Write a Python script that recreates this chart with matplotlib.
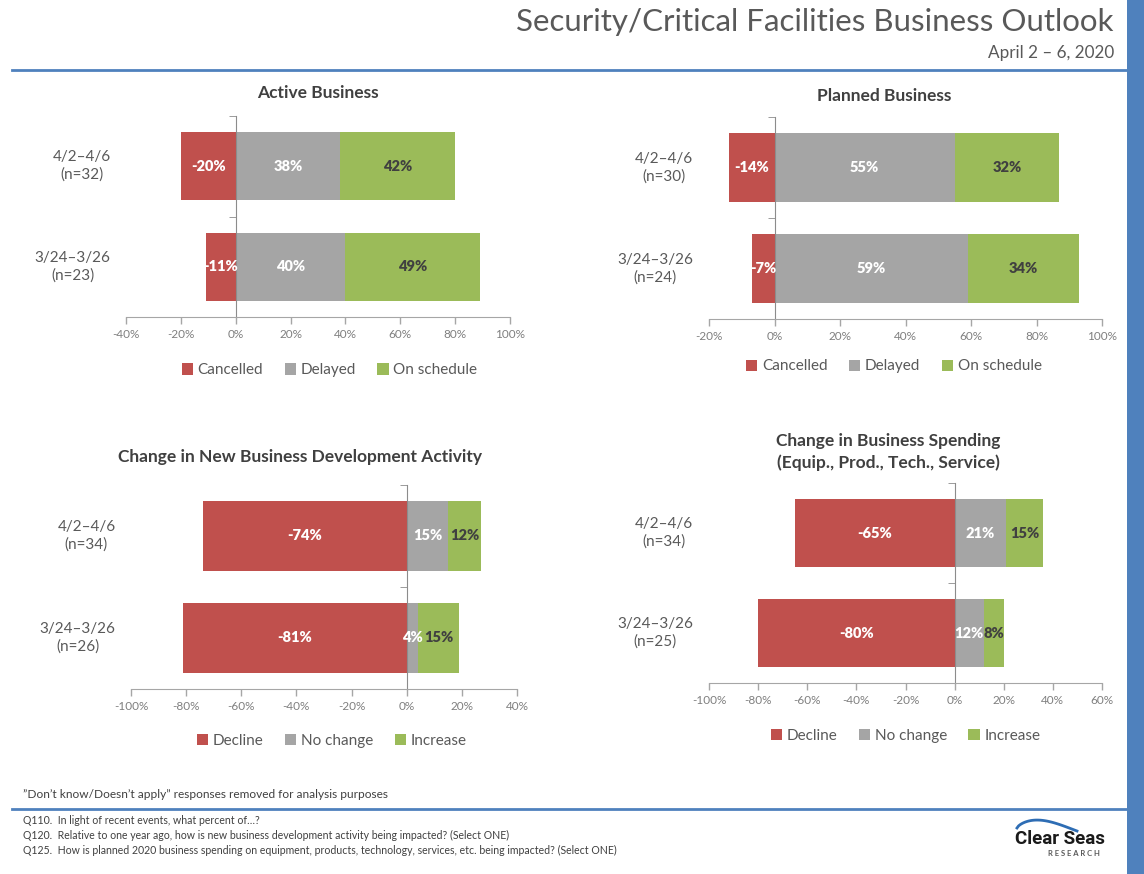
import numpy as np
import matplotlib.pyplot as plt
from matplotlib.lines import Line2D
from matplotlib.patches import Rectangle
import matplotlib.transforms as mtransforms

plt.rcParams['font.family'] = ['Lato', 'DejaVu Sans']

W, H = 1144, 874

RED = '#C0504D'
GRAY = '#A5A5A5'
GREEN = '#9BBB59'
BLUE = '#4F81BD'
TXT = '#595959'

# ---- data ----
active_labels = ['4/2–4/6\n(n=32)', '3/24–3/26\n(n=23)']
active_cancelled = [-20, -11]
active_delayed = [38, 40]
active_on_schedule = [42, 49]

planned_labels = ['4/2–4/6\n(n=30)', '3/24–3/26\n(n=24)']
planned_cancelled = [-14, -7]
planned_delayed = [55, 59]
planned_on_schedule = [32, 34]

newbiz_labels = ['4/2–4/6\n(n=34)', '3/24–3/26\n(n=26)']
newbiz_decline = [-74, -81]
newbiz_no_change = [15, 4]
newbiz_increase = [12, 15]

spend_labels = ['4/2–4/6\n(n=34)', '3/24–3/26\n(n=25)']
spend_decline = [-65, -80]
spend_no_change = [21, 12]
spend_increase = [15, 8]

legend_active = ['Cancelled', 'Delayed', 'On schedule']
legend_change = ['Decline', 'No change', 'Increase']


def px(x, y):
    return x / W, 1 - y / H


def axes_px(left, top, right, bottom):
    x0, y0 = px(left, bottom)
    return [x0, y0, (right - left) / W, (bottom - top) / H]


def draw_chart(ax, labels, neg, mid, pos, names, xlim, leg_x, leg_y):
    y = np.arange(len(labels))[::-1]
    h = 0.68
    mid = np.array(mid)
    b1 = ax.barh(y, neg, height=h, color=RED, label=names[0])
    b2 = ax.barh(y, mid, height=h, color=GRAY, label=names[1])
    b3 = ax.barh(y, pos, height=h, left=mid, color=GREEN, label=names[2])
    lab_kw = dict(label_type='center', fontsize=10.5, fontweight='heavy')
    ax.bar_label(b1, labels=[f'{v}%' for v in neg], color='white', **lab_kw)
    ax.bar_label(b2, labels=[f'{v}%' for v in mid], color='white', **lab_kw)
    ax.bar_label(b3, labels=[f'{v}%' for v in pos], color='#404040', **lab_kw)

    ax.set_xlim(*xlim)
    ax.set_ylim(-0.5, len(labels) - 0.5)
    ticks = np.arange(xlim[0], xlim[1] + 1, 20)
    ax.set_xticks(ticks)
    ax.set_xticklabels([f'{t}%' for t in ticks])
    ax.tick_params(axis='x', colors='#A6A6A6', labelcolor='#7F7F7F',
                   labelsize=8.5, length=5, width=1, direction='out', pad=4)

    for s in ['top', 'right']:
        ax.spines[s].set_visible(False)
    ax.spines['bottom'].set_color('#A6A6A6')
    ax.spines['left'].set_position(('data', 0))
    ax.spines['left'].set_color('#8C8C8C')
    ax.set_yticks([])
    ax.set_yticks(np.arange(len(labels)) + 0.5, minor=True)
    ax.tick_params(axis='y', which='minor', length=5, color='#8C8C8C',
                   direction='out', labelleft=False)

    trans = mtransforms.blended_transform_factory(ax.transAxes, ax.transData)
    for yy, lab in zip(y, labels):
        ax.text(-0.04, yy, lab, transform=trans, ha='right', va='center',
                multialignment='center', fontsize=11, color=TXT,
                linespacing=1.3)

    ax.legend(handles=[b1, b2, b3], loc='center', ncol=3, frameon=False,
              bbox_to_anchor=(leg_x, leg_y), fontsize=11, labelcolor=TXT,
              handlelength=0.75, handleheight=0.75, handletextpad=0.3,
              columnspacing=1.4)


fig = plt.figure(figsize=(W / 100, H / 100), dpi=100)

ax1 = fig.add_axes(axes_px(126, 116, 510, 317))
draw_chart(ax1, active_labels, active_cancelled, active_delayed,
           active_on_schedule, legend_active, (-40, 100), 0.53, -0.265)

ax2 = fig.add_axes(axes_px(709, 117, 1102, 319))
draw_chart(ax2, planned_labels, planned_cancelled, planned_delayed,
           planned_on_schedule, legend_active, (-20, 100), 0.47, -0.235)

ax3 = fig.add_axes(axes_px(131, 485, 517, 689))
draw_chart(ax3, newbiz_labels, newbiz_decline, newbiz_no_change,
           newbiz_increase, legend_change, (-100, 40), 0.52, -0.255)

ax4 = fig.add_axes(axes_px(709, 483, 1102, 683))
draw_chart(ax4, spend_labels, spend_decline, spend_no_change,
           spend_increase, legend_change, (-100, 60), 0.50, -0.265)

# chart titles
title_kw = dict(ha='center', va='center', fontsize=12.5, fontweight='bold',
                color='#404040')
fig.text(*px(318, 93), 'Active Business', **title_kw)
fig.text(*px(884, 96), 'Planned Business', **title_kw)
fig.text(*px(300, 457), 'Change in New Business Development Activity', **title_kw)
fig.text(*px(888, 452), 'Change in Business Spending\n(Equip., Prod., Tech., Service)',
         linespacing=1.35, **title_kw)

# header
fig.text(*px(1114, 22), 'Security/Critical Facilities Business Outlook',
         ha='right', va='center', fontsize=22.5, fontweight='normal', color=TXT)
fig.text(*px(1114, 53), 'April 2 – 6, 2020', ha='right', va='center',
         fontsize=12.3, color=TXT)
fig.add_artist(Line2D([12 / W, 1126 / W], [1 - 70 / H] * 2, color=BLUE, lw=2))
fig.add_artist(Rectangle((1127 / W, 0), 17 / W, 1, transform=fig.transFigure,
                         color=BLUE, lw=0))

# footer
fig.text(*px(23, 795), '”Don’t know/Doesn’t apply” responses removed for analysis purposes',
         ha='left', va='center', fontsize=8.6, color='#404040')
fig.add_artist(Line2D([12 / W, 1126 / W], [1 - 809 / H] * 2, color=BLUE, lw=2))
questions = [
    'Q110.  In light of recent events, what percent of…?',
    'Q120.  Relative to one year ago, how is new business development activity being impacted? (Select ONE)',
    'Q125.  How is planned 2020 business spending on equipment, products, technology, services, etc. being impacted? (Select ONE)',
]
for i, q in enumerate(questions):
    fig.text(*px(23, 821 + i * 14.5), q, ha='left', va='center',
             fontsize=7.6, color='#404040')

# logo
fig.text(*px(1060, 839), 'Clear Seas', ha='center', va='center', fontsize=13.5,
         fontweight='bold', color='#1a1a1a', family=['Roboto', 'DejaVu Sans'])
fig.text(*px(1074, 853), 'R E S E A R C H', ha='center', va='center',
         fontsize=5.5, fontweight='bold', color='#595959')
t = np.linspace(0, 1, 40)
fig.add_artist(Line2D((1017 + 60 * t) / W,
                      1 - (828 - 9 * np.sin(np.pi * t ** 0.7) + 3 * t) / H,
                      color='#2E6DB4', lw=2))

fig.savefig('out.png', dpi=100)
